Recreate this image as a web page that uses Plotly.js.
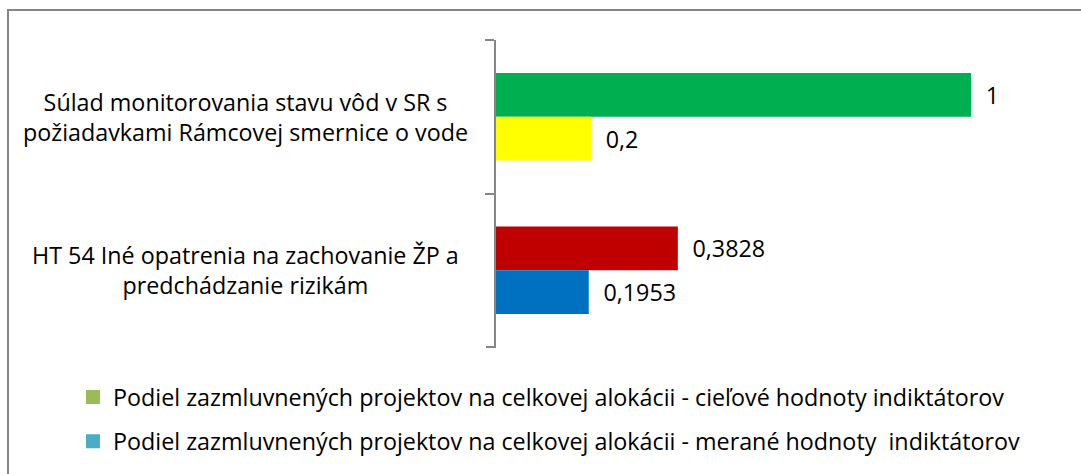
<!DOCTYPE html>
<html>
<head>
<meta charset="utf-8">
<script src="https://cdn.plot.ly/plotly-3.0.1.min.js"></script>
<style>html,body{margin:0;padding:0;background:#fff;}#chart{width:1081px;height:474px;}</style>
</head>
<body>
<div id="chart"></div>
<script>
// ---- data ----
const categories = [
  "Súlad monitorovania stavu vôd v SR s<br>požiadavkami Rámcovej smernice o vode",
  "HT 54 Iné opatrenia na zachovanie ŽP a<br>predchádzanie rizikám"
];
const seriesNames = [
  "Podiel zazmluvnených projektov na celkovej alokácii - cieľové hodnoty indiktátorov",
  "Podiel zazmluvnených projektov na celkovej alokácii - merané hodnoty  indiktátorov"
];
const targetValues = [1, 0.3828];
const measuredValues = [0.2, 0.1953];
const targetBarColors = ["#00B050", "#C00000"];
const measuredBarColors = ["#FFFF00", "#0070C0"];
const legendColors = ["#9BBB59", "#4BACC6"];

const FONT = "'Open Sans', Lato, sans-serif";
const FS = 23.3;
const fmt = v => "\u2002" + String(v).replace(".", ",");

const traces = [
  {
    type: "bar", orientation: "h", name: seriesNames[0],
    x: targetValues, y: categories,
    marker: {color: targetBarColors},
    text: targetValues.map(fmt), textposition: "outside", cliponaxis: false,
    textfont: {family: FONT, size: FS, color: "#000"},
    showlegend: false, hoverinfo: "skip"
  },
  {
    type: "bar", orientation: "h", name: seriesNames[1],
    x: measuredValues, y: categories,
    marker: {color: measuredBarColors},
    text: measuredValues.map(fmt), textposition: "outside", cliponaxis: false,
    textfont: {family: FONT, size: FS, color: "#000"},
    showlegend: false, hoverinfo: "skip"
  }
];
seriesNames.forEach((n, i) => {
  traces.push({
    type: "scatter", mode: "markers", name: n,
    x: [null], y: [null], legendgroup: "g" + i,
    marker: {symbol: "square", size: 14, color: legendColors[i]},
    showlegend: true, hoverinfo: "skip"
  });
});

const annotations = categories.map(c => ({
  xref: "paper", yref: "y", x: -0.44, y: c,
  text: c, showarrow: false, xanchor: "center", yanchor: "middle", align: "center",
  font: {family: FONT, size: FS, color: "#000"}
}));

const layout = {
  width: 1081, height: 474,
  margin: {l: 496, r: 15, t: 40, b: 127, pad: 0, autoexpand: false},
  paper_bgcolor: "#fff", plot_bgcolor: "#fff",
  barmode: "group", bargap: 0.43, bargroupgap: 0,
  font: {family: FONT, size: FS, color: "#000"},
  xaxis: {range: [0, 1.2], visible: false, fixedrange: true},
  yaxis: {
    type: "category", autorange: "reversed",
    showline: true, linecolor: "#868686", linewidth: 2,
    ticks: "outside", ticklen: 9, tickcolor: "#868686", tickwidth: 2,
    tickson: "boundaries", showticklabels: false, showgrid: false, zeroline: false
  },
  showlegend: true,
  legend: {
    xref: "container", yref: "container", x: 0.0675, y: 0.208,
    xanchor: "left", yanchor: "top", orientation: "v",
    tracegroupgap: 11, font: {family: FONT, size: FS, color: "#000"},
    bgcolor: "rgba(0,0,0,0)"
  },
  annotations: annotations,
  shapes: [
    {
      type: "rect", xref: "paper", yref: "paper",
      x0: (8 - 496) / 570, x1: 2, y0: -2, y1: (347 - 10) / 307,
      line: {color: "#868686", width: 2}, fillcolor: "rgba(0,0,0,0)", layer: "below"
    },
    {
      type: "line", xref: "paper", yref: "paper",
      x0: -10 / 570, x1: 0, y0: 0, y1: 0,
      line: {color: "#868686", width: 2}
    }
  ]
};

Plotly.newPlot("chart", traces, layout, {displayModeBar: false, staticPlot: true});
</script>
</body>
</html>
